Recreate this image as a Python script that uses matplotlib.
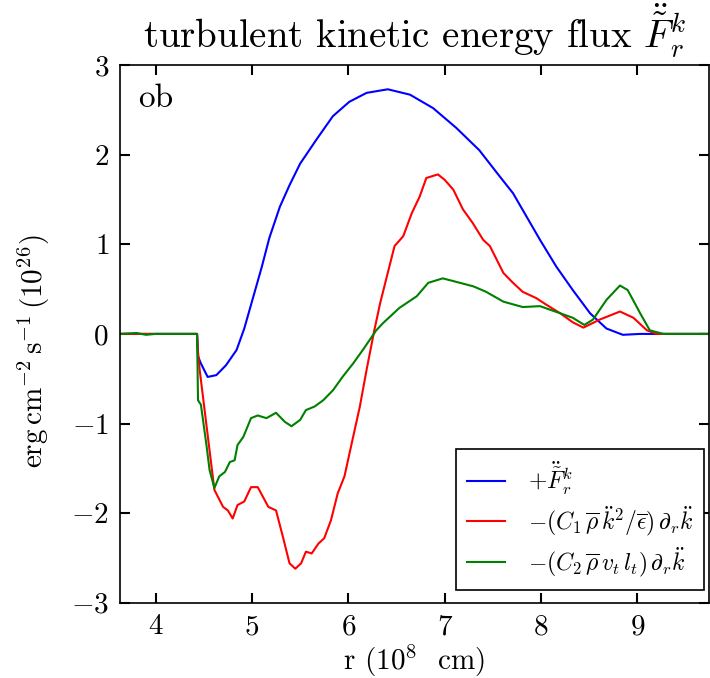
import matplotlib
matplotlib.use('Agg')
import matplotlib.pyplot as plt

plt.rcParams['font.family'] = 'serif'
plt.rcParams['font.serif'] = ['cmr10']
plt.rcParams['mathtext.fontset'] = 'cm'
plt.rcParams['axes.formatter.use_mathtext'] = True
plt.rcParams['axes.unicode_minus'] = True

# values (r in 1e8 cm, flux in 1e26)
r_blue = [3.63, 4.0, 4.43, 4.44, 4.47, 4.54, 4.63, 4.73, 4.84, 4.92, 5.01, 5.10, 5.18,
          5.29, 5.39, 5.50, 5.67, 5.84, 6.01, 6.19, 6.41, 6.64, 6.88, 7.12, 7.36,
          7.57, 7.71, 7.85, 7.99, 8.16, 8.33, 8.51, 8.68, 8.85, 9.03, 9.3, 9.74]
f_blue = [0.0, 0.0, 0.0, -0.25, -0.33, -0.48, -0.46, -0.35, -0.18, 0.06, 0.40, 0.74, 1.07,
          1.42, 1.66, 1.90, 2.17, 2.43, 2.59, 2.69, 2.73, 2.67, 2.52, 2.30, 2.05,
          1.76, 1.57, 1.31, 1.05, 0.75, 0.49, 0.23, 0.06, -0.01, 0.0, 0.0, 0.0]

r_red = [3.63, 4.0, 4.43, 4.44, 4.457, 4.61, 4.70, 4.75, 4.80, 4.85, 4.92, 4.99, 5.06,
         5.17, 5.25, 5.32, 5.39, 5.45, 5.51, 5.56, 5.62, 5.69, 5.75, 5.82, 5.89,
         5.96, 6.05, 6.12, 6.19, 6.27, 6.33, 6.40, 6.48, 6.57, 6.66, 6.74, 6.81,
         6.93, 7.00, 7.09, 7.19, 7.29, 7.40, 7.47, 7.61, 7.71, 7.81, 7.95, 8.05,
         8.20, 8.33, 8.44, 8.61, 8.82, 8.96, 9.10, 9.20, 9.74]
f_red = [0.0, 0.0, 0.0, -0.20, -0.40, -1.74, -1.93, -1.97, -2.06, -1.91, -1.87, -1.71, -1.71,
         -1.93, -1.97, -2.26, -2.56, -2.62, -2.56, -2.43, -2.45, -2.34, -2.28, -2.08, -1.78,
         -1.59, -1.15, -0.81, -0.40, 0.04, 0.34, 0.64, 0.98, 1.09, 1.35, 1.53, 1.74,
         1.78, 1.72, 1.61, 1.39, 1.24, 1.05, 0.98, 0.68, 0.57, 0.47, 0.40, 0.33,
         0.23, 0.13, 0.07, 0.16, 0.25, 0.18, 0.04, 0.0, 0.0]

r_green = [3.63, 3.8, 3.9, 4.0, 4.43, 4.44, 4.47, 4.53, 4.56, 4.61, 4.66, 4.72, 4.77,
           4.82, 4.85, 4.91, 4.99, 5.06, 5.15, 5.25, 5.34, 5.41, 5.50, 5.56, 5.65,
           5.74, 5.84, 5.94, 6.05, 6.15, 6.29, 6.36, 6.53, 6.71, 6.83, 6.98, 7.16,
           7.30, 7.43, 7.61, 7.81, 7.99, 8.20, 8.33, 8.45, 8.54, 8.68, 8.82, 8.90,
           9.03, 9.13, 9.27, 9.74]
f_green = [0.0, 0.01, -0.01, 0.0, 0.0, -0.74, -0.79, -1.26, -1.52, -1.72, -1.59, -1.54, -1.43,
           -1.41, -1.24, -1.15, -0.94, -0.91, -0.94, -0.88, -0.98, -1.03, -0.96, -0.85, -0.81,
           -0.74, -0.63, -0.48, -0.33, -0.18, 0.04, 0.12, 0.29, 0.42, 0.57, 0.62, 0.57,
           0.53, 0.47, 0.36, 0.30, 0.31, 0.23, 0.18, 0.10, 0.16, 0.38, 0.54, 0.49,
           0.23, 0.04, 0.0, 0.0]

fig = plt.figure(figsize=(7.1, 6.78), dpi=100)
ax = fig.add_axes([0.169, 0.111, 0.829, 0.793])

ax.plot(r_blue, f_blue, color='b', lw=1.5, label=r'$+\ddot{\tilde{F}}_r^k$')
ax.plot(r_red, f_red, color='r', lw=1.5,
        label=r'$-(C_1\,\overline{\rho}\,\ddot{k}^2/\overline{\epsilon})\,\partial_r\ddot{k}$')
ax.plot(r_green, f_green, color='g', lw=1.5,
        label=r'$-(C_2\,\overline{\rho}\,v_t\,l_t)\,\partial_r\ddot{k}$')

ax.set_xlim(3.63, 9.74)
ax.set_ylim(-3, 3)
ax.set_xticks([4, 5, 6, 7, 8, 9])
ax.set_yticks([-3, -2, -1, 0, 1, 2, 3])
ax.tick_params(direction='in', top=True, right=True, length=7, width=1.5, labelsize=21, pad=8)
for s in ax.spines.values():
    s.set_linewidth(1.2)

ax.set_title(r'turbulent kinetic energy flux $\ddot{\tilde{F}}_r^k$', fontsize=28, pad=12)
ax.set_xlabel(r'r (10$^{8}$  cm)', fontsize=21, labelpad=2)
ax.set_ylabel(r'$\mathrm{erg\,cm^{-2}\,s^{-1}\,(10^{26})}$', fontsize=21)
ax.yaxis.set_label_coords(-0.115, 0.467)
ax.text(0.03, 0.965, 'ob', transform=ax.transAxes, fontsize=24, va='top', ha='left')

leg = ax.legend(loc='lower right', bbox_to_anchor=(0.993, 0.024), borderaxespad=0,
                fontsize=17, frameon=True, fancybox=False, edgecolor='black',
                framealpha=1, handlelength=1.6, handletextpad=1.0, borderpad=0.45,
                labelspacing=0.3)
leg.get_frame().set_linewidth(1.2)

plt.savefig('out.png', dpi=100)
